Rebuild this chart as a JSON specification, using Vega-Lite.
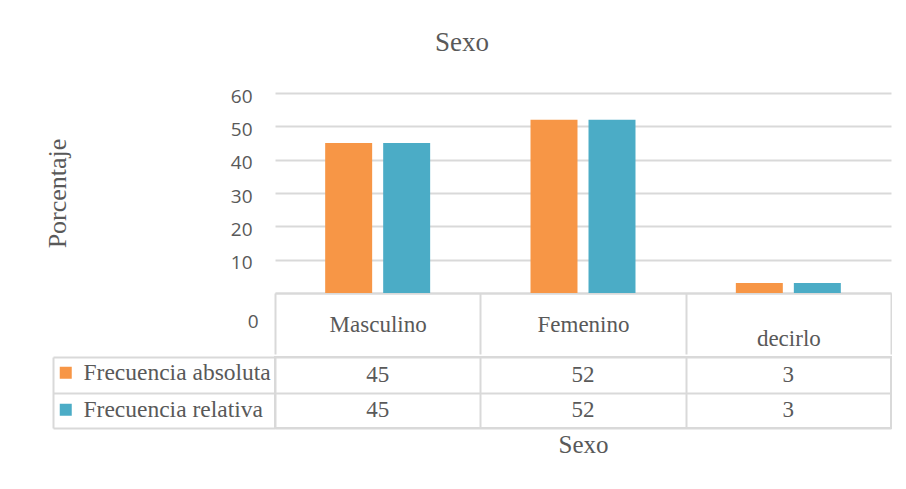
{
  "$schema": "https://vega.github.io/schema/vega-lite/v6.json",
  "background": "white",
  "padding": {"left": 44, "top": 29, "right": 0, "bottom": 0},
  "title": {
    "text": "Sexo",
    "font": "Liberation Serif",
    "fontSize": 27,
    "fontWeight": "normal",
    "color": "#595959",
    "anchor": "middle",
    "offset": 30,
    "dx": -6
  },
  "datasets": {
    "frecuencias": [
      {"sexo": "Masculino", "serie": "Frecuencia absoluta", "valor": 45},
      {"sexo": "Masculino", "serie": "Frecuencia relativa", "valor": 45},
      {"sexo": "Femenino", "serie": "Frecuencia absoluta", "valor": 52},
      {"sexo": "Femenino", "serie": "Frecuencia relativa", "valor": 52},
      {"sexo": "Prefiero no decirlo", "serie": "Frecuencia absoluta", "valor": 3},
      {"sexo": "Prefiero no decirlo", "serie": "Frecuencia relativa", "valor": 3}
    ]
  },
  "spacing": 0,
  "vconcat": [
    {
      "width": 616,
      "height": 200,
      "data": {"name": "frecuencias"},
      "mark": {"type": "bar"},
      "encoding": {
        "x": {
          "field": "sexo",
          "type": "nominal",
          "sort": ["Masculino", "Femenino", "Prefiero no decirlo"],
          "scale": {"paddingInner": 0, "paddingOuter": 0},
          "axis": {
            "title": null,
            "grid": false,
            "domainColor": "#d9d9d9",
            "domainWidth": 2,
            "ticks": true,
            "tickBand": "extent",
            "tickSize": 61,
            "tickColor": "#d9d9d9",
            "tickWidth": 2,
            "labelAngle": 0,
            "labelFont": "Liberation Serif",
            "labelFontSize": 23,
            "labelColor": "#595959",
            "labelPadding": -41,
            "labelLineHeight": 14,
            "labelExpr": "datum.value == 'Prefiero no decirlo' ? [' ', 'decirlo'] : datum.value"
          }
        },
        "xOffset": {
          "field": "serie",
          "sort": ["Frecuencia absoluta", "Frecuencia relativa"],
          "scale": {"paddingInner": 0.19, "paddingOuter": 0.865}
        },
        "y": {
          "field": "valor",
          "type": "quantitative",
          "scale": {"domain": [0, 60]},
          "axis": {
            "title": "Porcentaje",
            "values": [0, 10, 20, 30, 40, 50, 60],
            "domain": false,
            "ticks": false,
            "grid": true,
            "gridColor": "#d9d9d9",
            "gridWidth": 2,
            "labelFont": "Open Sans",
            "labelFontSize": 19,
            "labelColor": "#595959",
            "labelPadding": {"condition": {"test": "datum.value === 0", "value": 17}, "value": 23},
            "labelOffset": {"condition": {"test": "datum.value === 0", "value": 28}, "value": 3},
            "minExtent": 45,
            "maxExtent": 45,
            "titleFont": "Liberation Serif",
            "titleFontSize": 26,
            "titleFontWeight": "normal",
            "titleColor": "#595959",
            "titlePadding": 160
          }
        },
        "color": {
          "field": "serie",
          "type": "nominal",
          "scale": {
            "domain": ["Frecuencia absoluta", "Frecuencia relativa"],
            "range": ["#F79646", "#4BACC6"]
          },
          "legend": null
        }
      }
    },
    {
      "width": 616,
      "height": 71,
      "view": {"stroke": "#d9d9d9", "strokeWidth": 2},
      "data": {"name": "frecuencias"},
      "encoding": {
        "x": {
          "field": "sexo",
          "type": "nominal",
          "sort": ["Masculino", "Femenino", "Prefiero no decirlo"],
          "scale": {"paddingInner": 0, "paddingOuter": 0},
          "axis": {
            "title": "Sexo",
            "labels": false,
            "ticks": false,
            "domain": false,
            "grid": true,
            "tickBand": "extent",
            "gridColor": "#d9d9d9",
            "gridWidth": 2,
            "titleFont": "Liberation Serif",
            "titleFontSize": 25,
            "titleFontWeight": "normal",
            "titleColor": "#595959",
            "titlePadding": 4
          }
        },
        "y": {
          "field": "serie",
          "type": "nominal",
          "sort": ["Frecuencia absoluta", "Frecuencia relativa"],
          "scale": {"paddingInner": 0, "paddingOuter": 0},
          "axis": {
            "title": null,
            "labels": false,
            "offset": 222,
            "domain": true,
            "domainColor": "#d9d9d9",
            "domainWidth": 2,
            "ticks": true,
            "tickBand": "extent",
            "tickSize": -222,
            "tickColor": "#d9d9d9",
            "tickWidth": 2,
            "grid": true,
            "gridColor": "#d9d9d9",
            "gridWidth": 2
          }
        }
      },
      "layer": [
        {
          "mark": {
            "type": "text",
            "font": "Liberation Serif",
            "fontSize": 23,
            "color": "#595959",
            "baseline": "middle"
          },
          "encoding": {
            "text": {"field": "valor", "type": "quantitative"}
          }
        },
        {
          "mark": {"type": "square", "size": 0},
          "encoding": {
            "color": {
              "field": "serie",
              "type": "nominal",
              "scale": {
                "domain": ["Frecuencia absoluta", "Frecuencia relativa"],
                "range": ["#F79646", "#4BACC6"]
              },
              "legend": {
                "title": null,
                "orient": "none",
                "legendX": -221,
                "legendY": 4,
                "padding": 0,
                "symbolType": "square",
                "symbolSize": 144,
                "symbolOpacity": 1,
                "symbolStrokeWidth": 0,
                "labelOffset": 6,
                "labelLimit": 300,
                "labelFont": "Liberation Serif",
                "labelFontSize": 23.5,
                "labelColor": "#595959",
                "rowPadding": 12
              }
            }
          }
        }
      ]
    }
  ],
  "resolve": {
    "scale": {"x": "independent", "y": "independent", "color": "independent"}
  },
  "config": {
    "view": {"stroke": null}
  }
}
